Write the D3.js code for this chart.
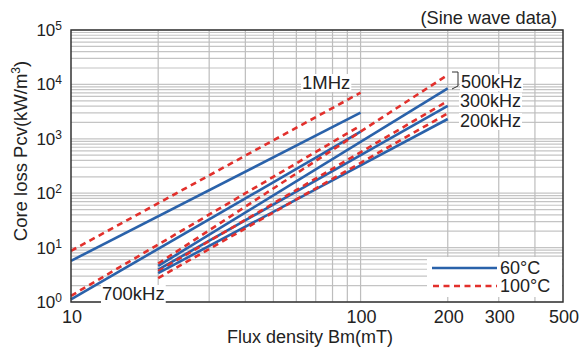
<!DOCTYPE html>
<html>
<head>
<meta charset="utf-8">
<script src="https://cdn.jsdelivr.net/npm/d3@7"></script>
<style>
  body { margin: 0; background: #fff; }
  text { font-family: "Liberation Sans", Arial, sans-serif; fill: #222; }
</style>
</head>
<body>
<div class="chart"></div>
<script>
// data
const freqNames = ["1MHz", "700kHz", "500kHz", "300kHz", "200kHz"];
const fluxStart = [10, 10, 20, 20, 20];
const fluxEnd = [100, 100, 200, 200, 200];
// Pcv at [start, end] flux
const loss60 = [[5.7, 3020], [1.12, 1350], [4.6, 8480], [3.95, 4010], [3.4, 2310]];
const loss100 = [[8.7, 7050], [1.3, 1750], [5.1, 15000], [3.7, 4950], [2.76, 2940]];
const xTicks = [10, 100, 200, 300, 500];
const xGrid = [20, 30, 40, 50, 60, 70, 80, 90, 100, 200, 300, 400];
const yExp = [0, 1, 2, 3, 4, 5];

const margin = {top: 30, left: 71, right: 17, bottom: 45};
const W = 580, H = 347;
const width = W - margin.left - margin.right,
    height = H - margin.top - margin.bottom;

const blue = "#2a62aa", red = "#e2302c";

const svg = d3.select(".chart").append("svg")
    .attr("width", W).attr("height", H);
const g = svg.append("g")
    .attr("transform", "translate(" + margin.left + "," + margin.top + ")");

const x = d3.scaleLog().domain([10, 500]).range([0, width]);
const y = d3.scaleLog().domain([1, 1e5]).range([height, 0]);

// horizontal grid: 1..9 x 10^n
let yGrid = [];
yExp.slice(0, -1).forEach(e => {
    for (let m = 1; m < 10; m++) yGrid.push(m * Math.pow(10, e));
});
yGrid.push(1e5);
g.append("g").selectAll("line").data(yGrid).join("line")
    .attr("x1", 0).attr("x2", width)
    .attr("y1", d => y(d)).attr("y2", d => y(d))
    .attr("stroke", "#c4c4c4").attr("stroke-width", 1.2);

g.append("g").selectAll("line").data(xGrid).join("line")
    .attr("x1", d => x(d)).attr("x2", d => x(d))
    .attr("y1", 0).attr("y2", height)
    .attr("stroke", "#bdbdbd").attr("stroke-width", 1.2);

// curves
const line = d3.line().x(d => x(d[0])).y(d => y(d[1]));
freqNames.forEach((f, i) => {
    const p60 = [[fluxStart[i], loss60[i][0]], [fluxEnd[i], loss60[i][1]]];
    const p100 = [[fluxStart[i], loss100[i][0]], [fluxEnd[i], loss100[i][1]]];
    g.append("path").attr("d", line(p60))
        .attr("fill", "none").attr("stroke", blue).attr("stroke-width", 2.6);
    g.append("path").attr("d", line(p100))
        .attr("fill", "none").attr("stroke", red).attr("stroke-width", 2.6)
        .attr("stroke-dasharray", "6,4.5");
});

// frame
g.append("rect").attr("width", width).attr("height", height)
    .attr("fill", "none").attr("stroke", "#333").attr("stroke-width", 1.5);

// axes labels
const xAxis = g.append("g").attr("transform", "translate(0," + height + ")");
xAxis.selectAll("text").data(xTicks).join("text")
    .attr("x", d => x(d) + 1).attr("y", 21)
    .attr("text-anchor", "middle").attr("font-size", 18)
    .text(d => d);

const yAxis = g.append("g");
yExp.forEach(e => {
    const t = yAxis.append("text")
        .attr("x", -9).attr("y", y(Math.pow(10, e)) + 6)
        .attr("text-anchor", "end").attr("font-size", 17);
    t.append("tspan").text("10");
    t.append("tspan").attr("font-size", 12).attr("dy", -6).text(e);
});

svg.append("text")
    .attr("x", 310).attr("y", 343)
    .attr("text-anchor", "middle").attr("font-size", 18)
    .text("Flux density Bm(mT)");

const yt = svg.append("text")
    .attr("transform", "translate(27,151) rotate(-90)")
    .attr("text-anchor", "middle").attr("font-size", 18.5);
yt.append("tspan").text("Core loss Pcv(kW/m");
yt.append("tspan").attr("font-size", 12).attr("dy", -7).text("3");
yt.append("tspan").attr("dy", 7).text(")");

svg.append("text")
    .attr("x", 557).attr("y", 24)
    .attr("text-anchor", "end").attr("font-size", 18.2)
    .text("(Sine wave data)");

// curve labels with white backing
function label(txt, lx, ly, fs) {
    const t = g.append("text").attr("x", lx).attr("y", ly)
        .attr("font-size", fs || 18.5).text(txt);
    const b = t.node().getBBox();
    g.insert("rect", () => t.node())
        .attr("x", b.x - 1).attr("y", b.y + 2)
        .attr("width", b.width + 2).attr("height", b.height - 3)
        .attr("fill", "#fff");
}
label("1MHz", 231, 59);
label("700kHz", 31, 270);
label("500kHz", 390, 58, 18);
label("300kHz", 389, 76.5, 18);
label("200kHz", 389, 97, 18);

// bracket for 500kHz pair
g.append("path")
    .attr("d", "M381,42 L387,42 L387,56 L381,59")
    .attr("fill", "none").attr("stroke", "#333").attr("stroke-width", 1);

// legend
const lg = g.append("g").attr("transform", "translate(356,227)");
lg.append("rect").attr("width", 135).attr("height", 40).attr("fill", "#fff");
lg.append("line").attr("x1", 5).attr("x2", 70).attr("y1", 11).attr("y2", 11)
    .attr("stroke", blue).attr("stroke-width", 2.6);
lg.append("line").attr("x1", 6).attr("x2", 70).attr("y1", 29).attr("y2", 29)
    .attr("stroke", red).attr("stroke-width", 2.6).attr("stroke-dasharray", "6,4.5");
lg.append("text").attr("x", 73).attr("y", 17).attr("font-size", 18).text("60°C");
lg.append("text").attr("x", 73).attr("y", 35).attr("font-size", 18).text("100°C");
</script>
</body>
</html>
